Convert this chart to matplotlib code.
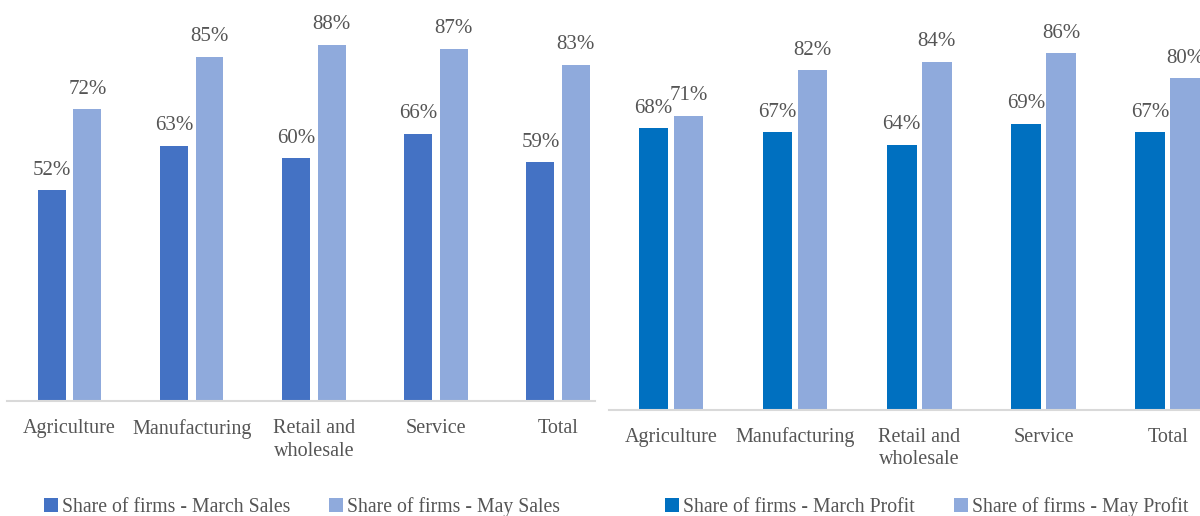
import numpy as np
import matplotlib.pyplot as plt
from matplotlib.patches import Patch
#--------------------------------------
plt.rcParams['font.family'] = ['Liberation Serif', 'DejaVu Serif']

sectors      = ['Agriculture', 'Manufacturing', 'Retail and\nwholesale', 'Service', 'Total']
marchSales   = [0.52, 0.63, 0.60, 0.66, 0.59]
maySales     = [0.72, 0.85, 0.88, 0.87, 0.83]
marchProfit  = [0.68, 0.67, 0.64, 0.69, 0.67]
mayProfit    = [0.71, 0.82, 0.84, 0.86, 0.80]

salesLabels  = ['Share of firms - March Sales', 'Share of firms - May Sales']
profitLabels = ['Share of firms - March Profit', 'Share of firms - May Profit']

txtColor = '#555555'
W, H     = 1200, 516
fig      = plt.figure(figsize=(W/100, H/100), dpi=100)
fig.patch.set_facecolor('white')
x        = np.arange(len(sectors))
#--------------------------------------
def panel(rect, xlim, a, b, colA, colB, width, off):
    ax = fig.add_axes(rect)
    barsA = ax.bar(x - off, a, width, color=colA, zorder=2)
    barsB = ax.bar(x + off, b, width, color=colB, zorder=2)
    for bars in (barsA, barsB):
        for r in bars:
            h = r.get_height()
            ax.annotate('{:.0f}%'.format(h*100), (r.get_x()+r.get_width()/2, h),
                        xytext=(0, 7.5), textcoords='offset points', ha='center',
                        va='bottom', fontsize=15, color=txtColor, clip_on=False)
    ax.set_xlim(*xlim)
    ax.set_ylim(0, 1.0)
    ax.set_xticks(x)
    ax.set_xticklabels(sectors, fontsize=14.5, color=txtColor, linespacing=1.25)
    ax.tick_params(axis='x', length=0, pad=13)
    ax.set_yticks([])
    for s in ('top', 'right', 'left'):
        ax.spines[s].set_visible(False)
    ax.spines['bottom'].set_color('#D9D9D9')
    ax.spines['bottom'].set_linewidth(1.5)
    ax.patch.set_alpha(0)
    return ax

# left panel: sales
lx0, lx1, lb = 7.3, 595, 401
panel([lx0/W, (H-lb)/H, (lx1-lx0)/W, 405/H], (-0.511, 4.302),
      marchSales, maySales, '#4472C4', '#8FAADC', 0.229, 0.145)
# right panel: profit
rx0, rx1, rb = 609.3, 1200, 409.5
panel([rx0/W, (H-rb)/H, (rx1-rx0)/W, 414/H], (-0.496, 4.26),
      marchProfit, mayProfit, '#0070C0', '#8FAADC', 0.238, 0.141)
#--------------------------------------
def legend(cx, colors, labels):
    handles = [Patch(facecolor=c, edgecolor='none') for c in colors]
    leg = fig.legend(handles, labels, loc='center', bbox_to_anchor=(cx/W, (H-507)/H),
                     ncol=2, frameon=False, fontsize=14.2, handlelength=0.7,
                     handleheight=0.7, handletextpad=0.2, columnspacing=2.0)
    for t in leg.get_texts():
        t.set_color(txtColor)

legend(302, ['#4472C4', '#8FAADC'], salesLabels)
legend(926.5, ['#0070C0', '#8FAADC'], profitLabels)

fig.savefig('out.png', dpi=100)
